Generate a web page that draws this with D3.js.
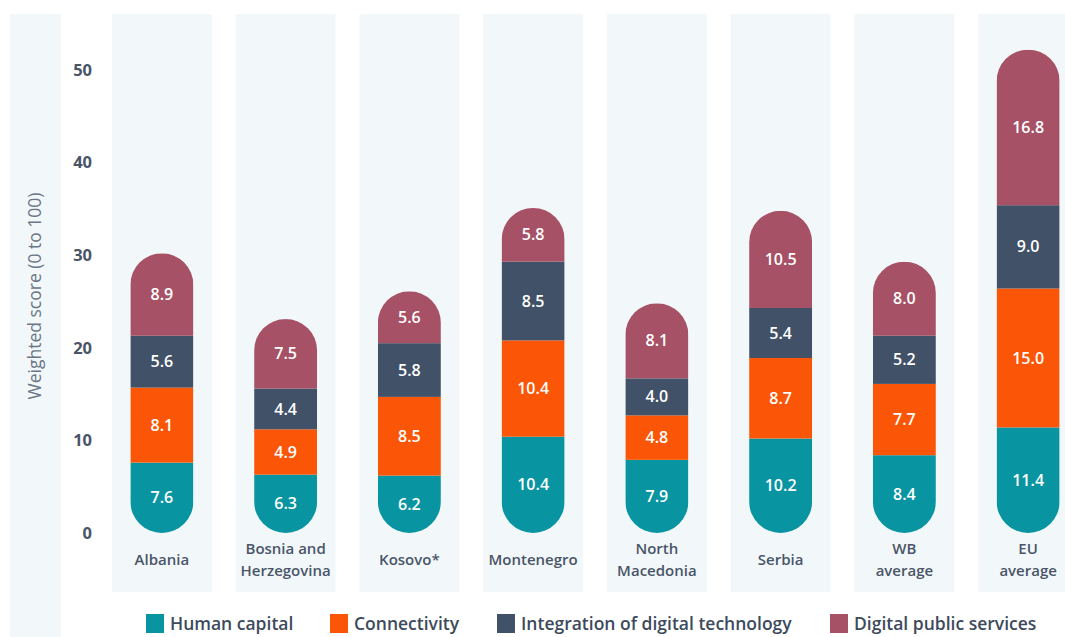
<!DOCTYPE html>
<html>
<head>
<meta charset="utf-8">
<script src="https://cdn.jsdelivr.net/npm/d3@7"></script>
<style>
  body { margin: 0; background: #fff; }
  svg { display: block; font-family: "Open Sans", sans-serif; }
</style>
</head>
<body>
<div id="chart"></div>
<script>
// Data
const countries = ['Albania', 'Bosnia and Herzegovina', 'Kosovo*', 'Montenegro', 'North Macedonia', 'Serbia', 'WB average', 'EU average'];
const countryLines = [['Albania'], ['Bosnia and', 'Herzegovina'], ['Kosovo*'], ['Montenegro'], ['North', 'Macedonia'], ['Serbia'], ['WB', 'average'], ['EU', 'average']];
const seriesNames = ['Human capital', 'Connectivity', 'Integration of digital technology', 'Digital public services'];
const humanCapital = [7.6, 6.3, 6.2, 10.4, 7.9, 10.2, 8.4, 11.4];
const connectivity = [8.1, 4.9, 8.5, 10.4, 4.8, 8.7, 7.7, 15.0];
const integration = [5.6, 4.4, 5.8, 8.5, 4.0, 5.4, 5.2, 9.0];
const publicServices = [8.9, 7.5, 5.6, 5.8, 8.1, 10.5, 8.0, 16.8];
const yTicks = [0, 10, 20, 30, 40, 50];

const seriesValues = [humanCapital, connectivity, integration, publicServices];
const colors = ['#0894a1', '#fb5607', '#415167', '#a65166'];

const W = 1065, H = 637;
const svg = d3.select('#chart').append('svg')
    .attr('width', W)
    .attr('height', H);

// left panel background
svg.append('rect')
    .attr('x', 10).attr('y', 14)
    .attr('width', 51).attr('height', H - 14)
    .attr('fill', '#f2f8fa');

const x = d3.scaleBand()
    .domain(countries)
    .range([100, 1090])
    .paddingInner(0.192)
    .paddingOuter(0.096);

const y = d3.scaleLinear()
    .domain([0, 50])
    .range([533, 70]);

// column backgrounds
svg.selectAll('.col-bg')
    .data(countries)
    .enter()
    .append('rect')
    .attr('class', 'col-bg')
    .attr('x', d => x(d))
    .attr('y', 14)
    .attr('width', x.bandwidth())
    .attr('height', 578)
    .attr('fill', '#f2f8fa');

// y axis
const yAxis = svg.append('g')
    .attr('transform', 'translate(92,0)')
    .call(d3.axisLeft(y).tickValues(yTicks).tickSize(0).tickPadding(0));
yAxis.select('.domain').remove();
yAxis.selectAll('text')
    .style('font-family', '"Open Sans", sans-serif')
    .style('font-size', '16.5px')
    .style('font-weight', '700')
    .style('fill', '#4a5568');

svg.append('text')
    .attr('transform', 'translate(41,296) rotate(-90)')
    .attr('text-anchor', 'middle')
    .style('font-size', '17.5px')
    .style('fill', '#6b7685')
    .text('Weighted score (0 to 100)');

// stacked capsules
const barW = 63;
const defs = svg.append('defs');

countries.forEach((c, i) => {
    const cx = x(c) + x.bandwidth() / 2;
    const total = d3.sum(seriesValues, s => s[i]);
    const clipId = 'clip-' + i;
    defs.append('clipPath')
        .attr('id', clipId)
        .append('rect')
        .attr('x', cx - barW / 2)
        .attr('y', y(total))
        .attr('width', barW)
        .attr('height', y(0) - y(total))
        .attr('rx', barW / 2)
        .attr('ry', barW / 2);

    const g = svg.append('g').attr('clip-path', `url(#${clipId})`);
    let base = 0;
    seriesValues.forEach((s, k) => {
        const v = s[i];
        g.append('rect')
            .attr('x', cx - barW / 2)
            .attr('y', y(base + v))
            .attr('width', barW)
            .attr('height', y(base) - y(base + v))
            .attr('fill', colors[k]);
        svg.append('text')
            .attr('x', cx)
            .attr('y', y(base + v / 2))
            .attr('dy', '0.35em')
            .attr('text-anchor', 'middle')
            .style('font-size', '16px')
            .style('font-weight', '600')
            .style('fill', '#fff')
            .text(v.toFixed(1));
        base += v;
    });

    // category label
    const lines = countryLines[i];
    const t = svg.append('text')
        .attr('text-anchor', 'middle')
        .style('font-size', '15px')
        .style('font-weight', '600')
        .style('fill', '#4a5568');
    lines.forEach((ln, j) => {
        t.append('tspan')
            .attr('x', cx)
            .attr('y', 560 + (j - (lines.length - 1) / 2) * 22)
            .attr('dy', '0.35em')
            .text(ln);
    });
});

// legend
const legendX = [146, 330, 497, 830];
seriesNames.forEach((name, k) => {
    const lg = svg.append('g').attr('transform', `translate(${legendX[k]},614)`);
    lg.append('rect')
        .attr('width', 18)
        .attr('height', 19)
        .attr('fill', colors[k]);
    lg.append('text')
        .attr('x', 24)
        .attr('y', 10)
        .attr('dy', '0.35em')
        .style('font-size', '17.5px')
        .style('font-weight', '600')
        .style('fill', '#3d4a5c')
        .text(name);
});
</script>
</body>
</html>
